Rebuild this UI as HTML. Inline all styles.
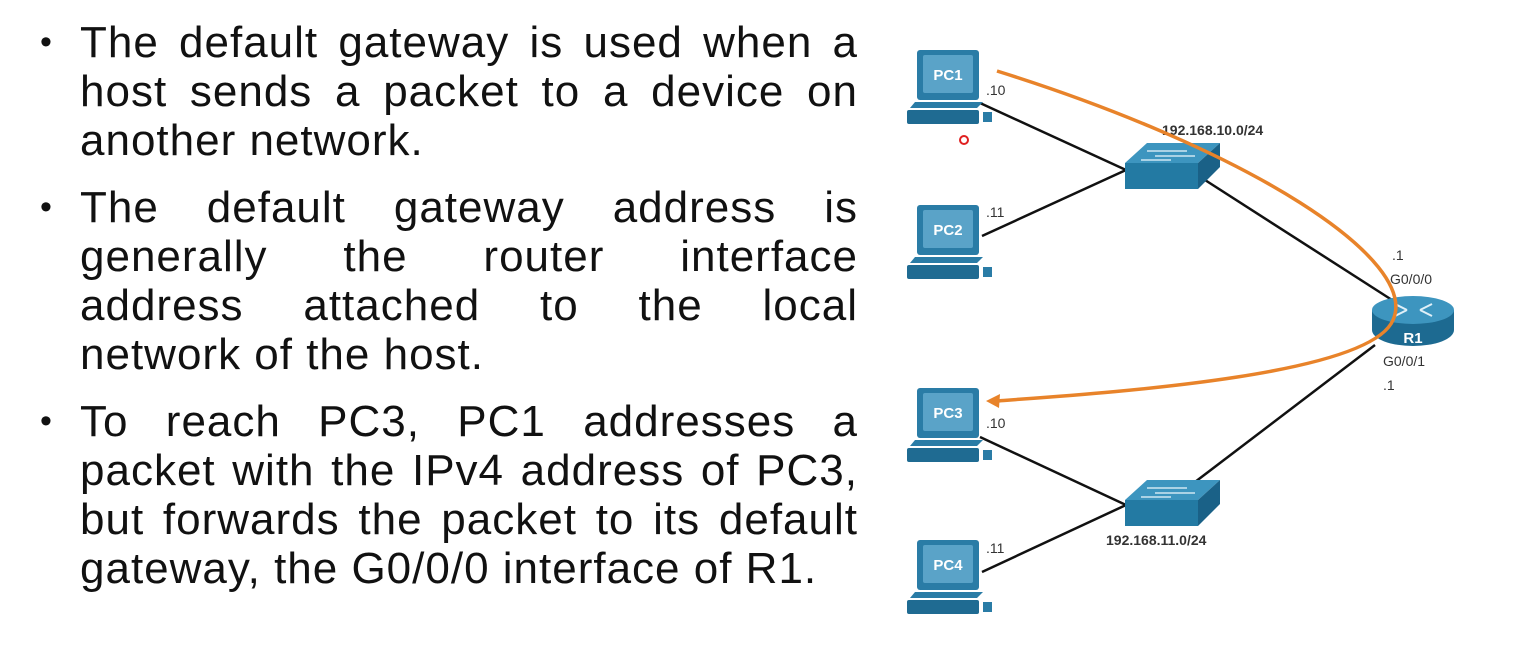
<!DOCTYPE html>
<html><head><meta charset="utf-8"><style>
html,body{margin:0;padding:0;background:#fff;width:1540px;height:663px;overflow:hidden;font-family:"Liberation Sans",sans-serif;}
.t{position:absolute;left:80px;width:778px;font-size:44px;color:#111;letter-spacing:1px;}
.l{height:49px;line-height:49px;text-align:justify;text-align-last:justify;white-space:nowrap;}
.l.e{text-align-last:left;}
.b{position:absolute;left:40px;font-size:34px;line-height:49px;color:#111;}
svg{position:absolute;left:0;top:0;}
</style></head><body>
<div class="b" style="top:18px">•</div>
<div class="t" style="top:18px">
<div class="l">The default gateway is used when a</div>
<div class="l">host sends a packet to a device on</div>
<div class="l e">another network.</div>
</div>
<div class="b" style="top:183px">•</div>
<div class="t" style="top:183px">
<div class="l">The default gateway address is</div>
<div class="l">generally the router interface</div>
<div class="l">address attached to the local</div>
<div class="l e">network of the host.</div>
</div>
<div class="b" style="top:397px">•</div>
<div class="t" style="top:397px">
<div class="l">To reach PC3, PC1 addresses a</div>
<div class="l">packet with the IPv4 address of PC3,</div>
<div class="l">but forwards the packet to its default</div>
<div class="l e">gateway, the G0/0/0 interface of R1.</div>
</div>
<svg width="1540" height="663" viewBox="0 0 1540 663">
<defs>
<g id="pc">
<rect x="12" y="0" width="62" height="50" rx="3" fill="#2a7ca6"/>
<rect x="18" y="5" width="50" height="38" rx="2" fill="#5aa3c8"/>
<polygon points="5,58 72,58 78,52 10,52" fill="#2a7ca6"/>
<rect x="2" y="60" width="72" height="14" rx="2" fill="#1f6b92"/>
<rect x="78" y="62" width="9" height="10" fill="#2a7ca6"/>
</g>
<g id="sw">
<polygon points="0,20 22,0 95,0 73,20" fill="#3d95bf"/>
<polygon points="0,20 73,20 73,46 0,46" fill="#237aa3"/>
<polygon points="73,20 95,0 95,24 73,46" fill="#1a6187"/>
<path d="M22,8 h40 M30,13 h40 M16,17 h30" stroke="#cfe6f2" stroke-width="1.5"/>
</g>
</defs>
<g stroke="#111" stroke-width="2.5" fill="none">
<line x1="980" y1="103" x2="1126" y2="170"/>
<line x1="982" y1="236" x2="1126" y2="170"/>
<line x1="1205" y1="180" x2="1392" y2="300"/>
<line x1="1375" y1="345" x2="1195" y2="482"/>
<line x1="980" y1="437" x2="1126" y2="505"/>
<line x1="982" y1="572" x2="1126" y2="505"/>
</g>
<use href="#pc" x="905" y="50"/>
<use href="#pc" x="905" y="205"/>
<use href="#pc" x="905" y="388"/>
<use href="#pc" x="905" y="540"/>
<g font-family="Liberation Sans" font-weight="bold" font-size="15" fill="#fff" text-anchor="middle">
<text x="948" y="80">PC1</text><text x="948" y="235">PC2</text><text x="948" y="418">PC3</text><text x="948" y="570">PC4</text>
</g>
<use href="#sw" x="1125" y="143"/>
<use href="#sw" x="1125" y="480"/>
<ellipse cx="1413" cy="330" rx="41" ry="16" fill="#1d6a91"/>
<rect x="1372" y="310" width="82" height="20" fill="#1d6a91"/>
<ellipse cx="1413" cy="310" rx="41" ry="14" fill="#3d95bf"/>
<path d="M1395,304 l12,6 M1395,316 l12,-6 M1432,304 l-12,6 M1432,316 l-12,-6" stroke="#e0f0f8" stroke-width="2"/>
<text x="1413" y="343" font-family="Liberation Sans" font-weight="bold" font-size="15" fill="#fff" text-anchor="middle">R1</text>
<g font-family="Liberation Sans" font-size="14" fill="#333">
<text x="986" y="95">.10</text><text x="986" y="217">.11</text>
<text x="986" y="428">.10</text><text x="986" y="553">.11</text>
<text x="1392" y="260">.1</text><text x="1390" y="284">G0/0/0</text>
<text x="1383" y="366">G0/0/1</text><text x="1383" y="390">.1</text>
<text x="1162" y="135" font-weight="bold">192.168.10.0/24</text>
<text x="1106" y="545" font-weight="bold">192.168.11.0/24</text>
</g>
<path d="M997,71 C1250,150 1420,260 1393,320 C1370,375 1120,392 996,401" stroke="#e8832a" stroke-width="3.5" fill="none"/>
<polygon points="986,401 1000,394 999,408" fill="#e8832a"/>
<circle cx="964" cy="140" r="4" fill="none" stroke="#e02020" stroke-width="2"/>
</svg>
</body></html>
